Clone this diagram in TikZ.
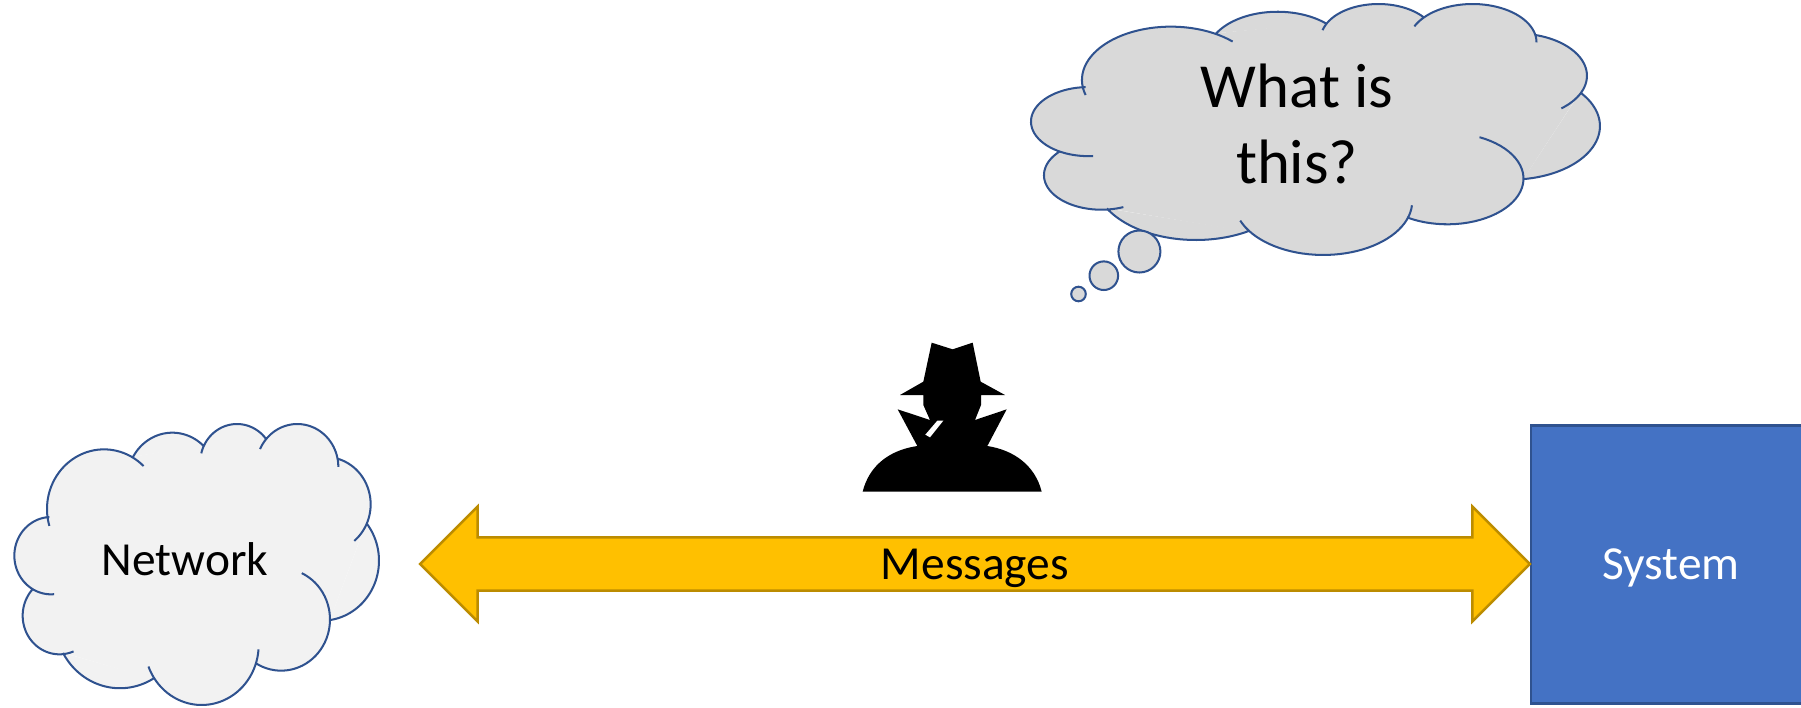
\documentclass[tikz,border=0pt]{standalone}
\usepackage{fontspec}
\setmainfont{Carlito}
\usetikzlibrary{shapes.arrows}

\definecolor{cloudline}{HTML}{2F528F}
\definecolor{cloudlight}{HTML}{F2F2F2}
\definecolor{cloudgray}{HTML}{D9D9D9}
\definecolor{systemblue}{HTML}{4472C4}
\definecolor{msgyellow}{HTML}{FFC000}
\definecolor{msgline}{HTML}{BC8C00}

% one lobe: centre x, y, radii x, y, first and last angle
\newcommand{\lobe}[6]{
  plot[domain=#5:#6, samples=40] ({#1+#3*cos(\x)},{#2+#4*sin(\x)})
}

% the lobes of a cloud, with their inner ends
\newcommand{\lobepath}{
  \lobe{312}{297}{171}{179}{163.5}{314}
  \lobe{517}{210}{135}{142}{209.5}{313.6}
  \lobe{711}{158}{110.5}{116}{194}{321}
  \lobe{892}{170.7}{123}{128.7}{204.6}{360}
  \lobe{977}{283}{135}{142}{-75}{50.5}
  \lobe{965.5}{452}{171.5}{180}{-38.9}{81.9}
  \lobe{843.5}{628.5}{146.5}{153.5}{-65}{122}
  \lobe{605}{705}{171}{180}{4.2}{159}
  \lobe{360}{629}{195.5}{205.7}{59}{151}
  \lobe{178.4}{617}{110.4}{116}{67.5}{223}
  \lobe{153}{437}{110}{116}{85}{267.5}
}

% one cloud: the filled body, then the lobes
\newcommand{\cloudlobes}[1]{
  \fill[#1] (148,322) -- (400,140) -- (604,105) -- (797,85) -- (1012,150)
    -- (1098,340) -- (990,630) -- (765,760) -- (462,808) -- (190,728)
    -- (100,538) -- cycle;
  \fill[#1] \lobepath;
  \draw[cloudline, line width=1.15pt] \lobepath;
}

\begin{document}
\begin{tikzpicture}[
  x=0.02cm,
  y=-0.02cm,
  label/.style={
      font=\fontsize{27}{32}\selectfont
  },
  bubble/.style={
      draw=cloudline,
      fill=cloudgray,
      line width=1.15pt
  },
  system/.style={
      rectangle,
      draw=cloudline,
      fill=systemblue,
      line width=1.2pt,
      text=white,
      text depth=0pt,
      minimum width=5.6cm,
      minimum height=5.56cm,
      outer sep=0pt,
      label
  },
  messages/.style={
      double arrow,
      draw=msgline,
      fill=msgyellow,
      line width=1.4pt,
      text depth=0pt,
      minimum height=22.2cm,
      minimum width=2.3cm,
      double arrow head extend=0.38cm,
      double arrow head indent=0cm,
      inner sep=0pt,
      outer sep=0pt,
      label
  }
]

\useasboundingbox (0,0) rectangle (1801,707);

% ==================================================
% Clouds
% ==================================================

\begin{scope}[shift={(0,410)}, scale=1/3]
\cloudlobes{cloudlight}
\end{scope}

\node[label] (network) at (185,559) {Network};

\begin{scope}[shift={(1008.6,-8.5)}, xscale=0.5201, yscale=0.2977]
\cloudlobes{cloudgray}
\end{scope}

\draw[bubble] (1139.4,251.5) circle [radius=21];
\draw[bubble] (1103.8,275.7) circle [radius=14.3];
\draw[bubble] (1078.5,294) circle [radius=7.3];

\node[
    font=\fontsize{35.7}{43.3}\selectfont,
    align=center
] (question) at (1297,124)
{
What is\\
this?
};

% ==================================================
% Spy
% ==================================================

\begin{scope}[shift={(840,330)}, scale=1/3]
\fill[black]
(275,38) -- (338,58) -- (398,38) -- (422,155) -- (495,195) -- (423,195)
-- (423,225) -- (405,270) -- (500,238) -- (442,348)
.. controls (520,360) and (585,405) .. (605,485)
-- (68,485)
.. controls (88,405) and (150,360) .. (232,348)
-- (173,238) -- (270,270) -- (250,225) -- (250,195) -- (180,195)
-- (250,155) -- cycle;
\fill[white]
(292,272) -- (310,272) -- (270,322) -- (256,314) -- cycle;
\end{scope}

% ==================================================
% System and Messages
% ==================================================

\node[system] (sys) at (1671,564.5) {System};

\node[messages] (msg) at (975,564) {Messages};

\end{tikzpicture}
\end{document}
